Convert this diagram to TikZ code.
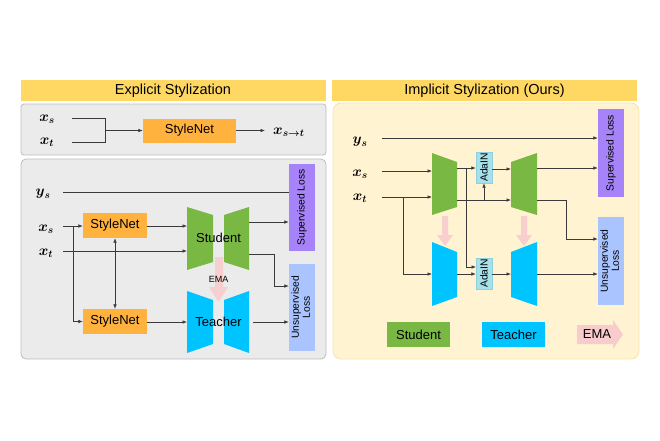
\RequirePackage{fix-cm}
\documentclass[tikz,border=0pt]{standalone}
\usepackage{amsmath}
\usepackage{graphicx}
\usepackage{fontspec}
\setmainfont{Liberation Sans}
\usetikzlibrary{arrows.meta}
\definecolor{titley}{HTML}{FFD863}
\definecolor{grayfill}{HTML}{EBEBEB}
\definecolor{grayline}{HTML}{BDBDBD}
\definecolor{beige}{HTML}{FFF3D2}
\definecolor{beigeline}{HTML}{F8E3A8}
\definecolor{snorange}{HTML}{FFB23E}
\definecolor{stgreen}{HTML}{78B843}
\definecolor{tcblue}{HTML}{00C4FF}
\definecolor{suppurple}{HTML}{A783FA}
\definecolor{unsblue}{HTML}{A9C4FF}
\definecolor{adacyan}{HTML}{A6E0EA}
\definecolor{adaline}{HTML}{8FD0DC}
\definecolor{emapink}{HTML}{F8CCCC}
\definecolor{linec}{HTML}{3A3A3A}
\tikzset{
  conn/.style={draw=linec, line width=0.7pt},
  arr/.style={conn, -{Latex[length=4.5pt,width=3.6pt]}},
  biarr/.style={conn, {Latex[length=4.5pt,width=3.6pt]}-{Latex[length=4.5pt,width=3.6pt]}},
  titlebar/.style={fill=titley, inner sep=0pt, minimum width=305pt, minimum height=21pt, font=\fontsize{14.5}{16}\selectfont},
  snbox/.style={fill=snorange, inner sep=0pt, font=\fontsize{13}{15}\selectfont},
  lossbox/.style={inner sep=0pt, minimum width=26pt, font=\fontsize{10.3}{12}\selectfont},
  adabox/.style={fill=adacyan, draw=adaline, line width=0.4pt, inner sep=0pt, minimum width=16pt, minimum height=31pt, font=\fontsize{10.3}{12}\selectfont},
  mlabel/.style={inner sep=0pt, font=\fontsize{14.5}{16}\selectfont},
  netlabel/.style={inner sep=0pt, font=\fontsize{13}{15}\selectfont},
  legbox/.style={inner sep=0pt, minimum width=63pt, minimum height=25pt, font=\fontsize{13}{15}\selectfont},
  emashape/.style={fill=emapink, opacity=0.9},
}
\begin{document}
\begin{tikzpicture}[x=1pt,y=-1pt]
\useasboundingbox (0,0) rectangle (660,440);

%================ LEFT: Explicit =================
\node[titlebar] (tL) at (173,90.5) {Explicit Stylization};
\draw[fill=grayfill, draw=grayline, line width=0.8pt, rounded corners=3pt] (21,104) rectangle (326,155);
\node[mlabel] (xs0) at (47,119) {$\boldsymbol{x}_{\boldsymbol{s}}$};
\node[mlabel] (xt0) at (47,142) {$\boldsymbol{x}_{\boldsymbol{t}}$};
\node[snbox, minimum width=93pt, minimum height=24pt] (sn0) at (189.5,130.5) {StyleNet};
\coordinate (j0a) at (72,118);
\coordinate (j0b) at (72,142);
\coordinate (j0) at (105,130.5);
\draw[conn] (j0a) -| (j0 |- j0b) -- (j0b);
\draw[arr] (j0) -- (sn0.west);
\coordinate (o0) at (265,130.5);
\draw[arr] (sn0.east) -- (o0);
\node[mlabel, anchor=west] (xst) at (273,132) {$\boldsymbol{x}_{\boldsymbol{s\rightarrow t}}$};

\draw[fill=grayfill, draw=grayline, line width=0.8pt, rounded corners=5pt] (21,159) rectangle (326,359);
\node[mlabel] (ysL) at (43,194) {$\boldsymbol{y}_{\boldsymbol{s}}$};
\node[mlabel] (xsL) at (46,229) {$\boldsymbol{x}_{\boldsymbol{s}}$};
\node[mlabel] (xtL) at (46,253) {$\boldsymbol{x}_{\boldsymbol{t}}$};
\node[lossbox, fill=suppurple, minimum height=87pt] (supL) at (302,207.5) {\rotatebox{90}{Supervised Loss}};
\node[lossbox, fill=unsblue, minimum height=87pt] (unsL) at (302,307.5) {\rotatebox{90}{\begin{tabular}{@{}c@{}}Unsupervised\\[-1pt]Loss\end{tabular}}};
\node[snbox, minimum width=64pt, minimum height=25pt] (sn1) at (115,225.5) {StyleNet};
\node[snbox, minimum width=64pt, minimum height=25pt] (sn2) at (115,321.5) {StyleNet};
% student
\fill[stgreen] (187,207) -- (213,215) -- (213,262) -- (187,270) -- cycle;
\fill[stgreen] (224,215) -- (249,207) -- (249,270) -- (224,262) -- cycle;
% teacher
\fill[tcblue] (187,291) -- (213,300) -- (213,344) -- (187,353) -- cycle;
\fill[tcblue] (224,300) -- (249,291) -- (249,353) -- (224,344) -- cycle;
\fill[emashape] (215,257) -- (223,257) -- (223,287) -- (228,287) -- (218.5,302) -- (209,287) -- (215,287) -- cycle;
\node[netlabel] (stuL) at (218.5,238) {Student};
\node[netlabel] (teaL) at (218.5,322) {Teacher};
\node[inner sep=0pt, font=\fontsize{9}{10}\selectfont] (emaL) at (218.5,279) {EMA};
\coordinate (stuLin1) at (187,226);
\coordinate (stuLin2) at (187,251);
\coordinate (teaLin) at (187,322);
% connectors
\coordinate (ysLs) at (63,192);
\draw[conn] (ysLs) -- (ysLs -| supL.west);
\coordinate (xsLs) at (63,226);
\coordinate (xsLb) at (73,226);
\draw[arr] (xsLs) -- (xsLs -| sn1.west);
\draw[arr] (xsLb) |- (sn2.west);
\coordinate (xtLs) at (63,251);
\draw[arr] (xtLs) -- (stuLin2);
\draw[arr] (sn1.east |- stuLin1) -- (stuLin1);
\draw[arr] (sn2.east |- teaLin) -- (teaLin);
\draw[biarr] (sn1.south) -- (sn2.north);
\coordinate (stuLo1) at (249,222);
\coordinate (stuLo2) at (249,254);
\draw[arr] (stuLo1) -- (stuLo1 -| supL.west);
\coordinate (bendL) at (274,286);
\draw[arr] (stuLo2) -| (bendL) -- (bendL -| unsL.west);
\coordinate (teaLo) at (253,322);
\draw[arr] (teaLo) -- (teaLo -| unsL.west);

%================ RIGHT: Implicit =================
\node[titlebar] (tR) at (484.5,90.5) {Implicit Stylization (Ours)};
\draw[fill=beige, draw=beigeline, line width=0.8pt, rounded corners=8pt] (333,103) rectangle (639,359);
\node[mlabel] (ysR) at (360,142) {$\boldsymbol{y}_{\boldsymbol{s}}$};
\node[mlabel] (xsR) at (360,174) {$\boldsymbol{x}_{\boldsymbol{s}}$};
\node[mlabel] (xtR) at (360,198) {$\boldsymbol{x}_{\boldsymbol{t}}$};
\node[lossbox, fill=suppurple, minimum height=88pt] (supR) at (611,153) {\rotatebox{90}{Supervised Loss}};
\node[lossbox, fill=unsblue, minimum height=88pt] (unsR) at (611,261) {\rotatebox{90}{\begin{tabular}{@{}c@{}}Unsupervised\\[-1pt]Loss\end{tabular}}};
% nets
\fill[stgreen] (432,153) -- (457,162) -- (457,207) -- (432,215) -- cycle;
\fill[stgreen] (511,162) -- (537,153) -- (537,215) -- (511,207) -- cycle;
\fill[tcblue] (432,242) -- (457,252) -- (457,297) -- (432,306) -- cycle;
\fill[tcblue] (511,252) -- (537,242) -- (537,306) -- (511,297) -- cycle;
\fill[emashape] (442,216) -- (448,216) -- (448,235) -- (453,235) -- (445,246) -- (437,235) -- (442,235) -- cycle;
\fill[emashape] (521,216) -- (527,216) -- (527,235) -- (532,235) -- (524,246) -- (516,235) -- (521,235) -- cycle;
\node[adabox] (ada1) at (484,167.5) {\rotatebox{90}{AdaIN}};
\node[adabox] (ada2) at (484,273.5) {\rotatebox{90}{AdaIN}};
% connectors
\coordinate (ysRs) at (382,138);
\draw[arr] (ysRs) -- (ysRs -| supR.west);
\coordinate (xsRs) at (382,171);
\coordinate (encIn1) at (432,171);
\draw[arr] (xsRs) -- (encIn1);
\coordinate (xtRs) at (382,197);
\coordinate (encIn2) at (432,197);
\draw[arr] (xtRs) -- (encIn2);
\coordinate (xtRb) at (403,197);
\coordinate (tencIn) at (432,274);
\draw[arr] (xtRb) |- (tencIn);
\coordinate (encO1) at (457,168);
\draw[arr] (encO1) -- (encO1 -| ada1.west);
\coordinate (vb) at (466,168);
\coordinate (vbe) at (476,267);
\draw[arr] (vb) |- (vbe);
\coordinate (encO2) at (457,200);
\coordinate (decIn2) at (511,200);
\draw[arr] (encO2) -- (decIn2);
\coordinate (brA) at (484,200);
\draw[arr] (brA) -- (ada1.south);
\coordinate (decIn1) at (511,169);
\draw[arr] (ada1.east |- decIn1) -- (decIn1);
\coordinate (decO1) at (537,168);
\draw[arr] (decO1) -- (decO1 -| supR.west);
\coordinate (decO2) at (537,200);
\coordinate (bendR) at (566,239);
\draw[arr] (decO2) -| (bendR) -- (bendR -| unsR.west);
\coordinate (tencO) at (457,274);
\draw[arr] (tencO) -- (tencO -| ada2.west);
\coordinate (tdecIn) at (511,274);
\draw[arr] (ada2.east |- tdecIn) -- (tdecIn);
\coordinate (tdecO) at (537,274);
\draw[arr] (tdecO) -- (tdecO -| unsR.west);
% legend
\node[legbox, fill=stgreen] (legS) at (418.5,334.5) {Student};
\node[legbox, fill=tcblue] (legT) at (513.5,334.5) {Teacher};
\fill[emapink] (577,325) -- (613,325) -- (613,320) -- (623,334.5) -- (613,349) -- (613,344) -- (577,344) -- cycle;
\node[inner sep=0pt, font=\fontsize{13}{15}\selectfont] (legE) at (597,334.5) {EMA};
\end{tikzpicture}
\end{document}
